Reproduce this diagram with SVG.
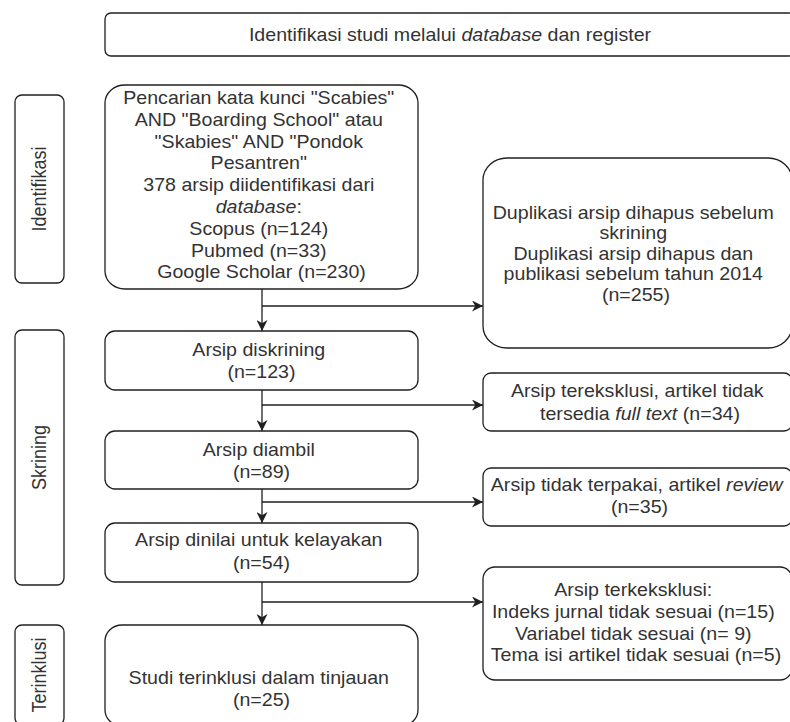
<svg xmlns="http://www.w3.org/2000/svg" width="790" height="722" viewBox="0 0 790 722">
<style>
  .box { fill: #ffffff; stroke: #1f1f1f; stroke-width: 1.3; }
  .t { font-family: "Liberation Sans", Arial, sans-serif; font-size: 18px; fill: #333333; text-anchor: middle; }
  .it { font-style: italic; }
  .edge { fill: none; stroke: #1f1f1f; stroke-width: 1.3; }
</style>
<defs>
  <marker id="arrow" viewBox="0 0 10 10" refX="10" refY="5" markerWidth="11" markerHeight="11" markerUnits="userSpaceOnUse" orient="auto">
    <path d="M0,0 L10,5 L0,10 L3,5 z" fill="#1f1f1f"/>
  </marker>
</defs>
<rect width="790" height="722" fill="#ffffff"/>

<g id="header">
  <rect class="box" x="105" y="13" width="690" height="43" rx="6" ry="6"/>
  <text class="t" transform="translate(450,0) scale(1.09,1)"><tspan x="0" y="41">Identifikasi studi melalui <tspan class="it">database</tspan> dan register</tspan></text>
</g>

<g id="phase-identifikasi">
  <rect class="box" x="15" y="95" width="49" height="188" rx="7" ry="7"/>
  <text class="t" transform="translate(39.5,189) scale(1.09,1) rotate(-90)" x="0" y="6">Identifikasi</text>
</g>

<g id="phase-skrining">
  <rect class="box" x="15" y="330" width="49" height="255" rx="7" ry="7"/>
  <text class="t" transform="translate(39.5,457.5) scale(1.09,1) rotate(-90)" x="0" y="6">Skrining</text>
</g>

<g id="phase-terinklusi">
  <rect class="box" x="15" y="625" width="49" height="100" rx="7" ry="7"/>
  <text class="t" transform="translate(39.5,675) scale(1.09,1) rotate(-90)" x="0" y="6">Terinklusi</text>
</g>

<g id="search">
  <rect class="box" x="105" y="85" width="313" height="204" rx="20" ry="18"/>
  <text class="t" transform="translate(261.5,0) scale(1.09,1)">
    <tspan x="0" y="104">Pencarian kata kunci "Scabies"</tspan>
    <tspan x="0" y="125.8">AND "Boarding School" atau</tspan>
    <tspan x="0" y="147.6">"Skabies" AND "Pondok</tspan>
    <tspan x="0" y="169.4">Pesantren"</tspan>
    <tspan x="0" y="191.2">378 arsip diidentifikasi dari</tspan>
    <tspan x="0" y="213"><tspan class="it">database</tspan>:</tspan>
    <tspan x="0" y="234.8">Scopus (n=124)</tspan>
    <tspan x="0" y="256.6">Pubmed (n=33)</tspan>
    <tspan x="0" y="278.4">Google Scholar (n=230)</tspan>
  </text>
</g>

<g id="duplicates">
  <rect class="box" x="483" y="158" width="309" height="190" rx="24" ry="22"/>
  <text class="t" transform="translate(636,0) scale(1.09,1)">
    <tspan x="0" y="218.8">Duplikasi arsip dihapus sebelum</tspan>
    <tspan x="0" y="239.3">skrining</tspan>
    <tspan x="0" y="259.8">Duplikasi arsip dihapus dan</tspan>
    <tspan x="0" y="280.3">publikasi sebelum tahun 2014</tspan>
    <tspan x="0" y="300.8">(n=255)</tspan>
  </text>
</g>

<g id="screened">
  <rect class="box" x="105" y="331" width="313" height="59" rx="10" ry="10"/>
  <text class="t" transform="translate(261.5,0) scale(1.09,1)">
    <tspan x="0" y="356.3">Arsip diskrining</tspan>
    <tspan x="0" y="378">(n=123)</tspan>
  </text>
</g>

<g id="excluded-fulltext">
  <rect class="box" x="483" y="373" width="309" height="58" rx="8" ry="8"/>
  <text class="t" transform="translate(640,0) scale(1.09,1)">
    <tspan x="0" y="397">Arsip tereksklusi, artikel tidak</tspan>
    <tspan x="0" y="419.6">tersedia <tspan class="it">full text</tspan> (n=34)</tspan>
  </text>
</g>

<g id="retrieved">
  <rect class="box" x="105" y="431" width="313" height="58" rx="10" ry="10"/>
  <text class="t" transform="translate(261.5,0) scale(1.09,1)">
    <tspan x="0" y="456.3">Arsip diambil</tspan>
    <tspan x="0" y="478">(n=89)</tspan>
  </text>
</g>

<g id="not-used-review">
  <rect class="box" x="483" y="468" width="309" height="58" rx="8" ry="8"/>
  <text class="t" transform="translate(639.5,0) scale(1.09,1)">
    <tspan x="0" y="491.3">Arsip tidak terpakai, artikel <tspan class="it">review</tspan></tspan>
    <tspan x="0" y="513">(n=35)</tspan>
  </text>
</g>

<g id="eligibility">
  <rect class="box" x="105" y="523" width="313" height="59" rx="10" ry="10"/>
  <text class="t" transform="translate(261.5,0) scale(1.09,1)">
    <tspan x="0" y="546.3">Arsip dinilai untuk kelayakan</tspan>
    <tspan x="0" y="569">(n=54)</tspan>
  </text>
</g>

<g id="excluded-final">
  <rect class="box" x="483" y="567" width="309" height="113" rx="12" ry="12"/>
  <text class="t" transform="translate(636,0) scale(1.09,1)">
    <tspan x="0" y="596.3">Arsip terkeksklusi:</tspan>
    <tspan x="0" y="618">Indeks jurnal tidak sesuai (n=15)</tspan>
    <tspan x="0" y="639.6">Variabel tidak sesuai (n= 9)</tspan>
    <tspan x="0" y="661.3">Tema isi artikel tidak sesuai (n=5)</tspan>
  </text>
</g>

<g id="included">
  <rect class="box" x="105" y="625" width="313" height="101" rx="17" ry="16"/>
  <text class="t" transform="translate(261.5,0) scale(1.09,1)">
    <tspan x="0" y="684">Studi terinklusi dalam tinjauan</tspan>
    <tspan x="0" y="706">(n=25)</tspan>
  </text>
</g>

<g id="connectors">
  <path class="edge" d="M262,289 L262,331" marker-end="url(#arrow)"/>
  <path class="edge" d="M262,306 L483,306" marker-end="url(#arrow)"/>
  <path class="edge" d="M262,390 L262,431" marker-end="url(#arrow)"/>
  <path class="edge" d="M262,405 L483,405" marker-end="url(#arrow)"/>
  <path class="edge" d="M262,489 L262,523" marker-end="url(#arrow)"/>
  <path class="edge" d="M262,502 L483,502" marker-end="url(#arrow)"/>
  <path class="edge" d="M262,582 L262,625" marker-end="url(#arrow)"/>
  <path class="edge" d="M262,602 L483,602" marker-end="url(#arrow)"/>
</g>
</svg>
